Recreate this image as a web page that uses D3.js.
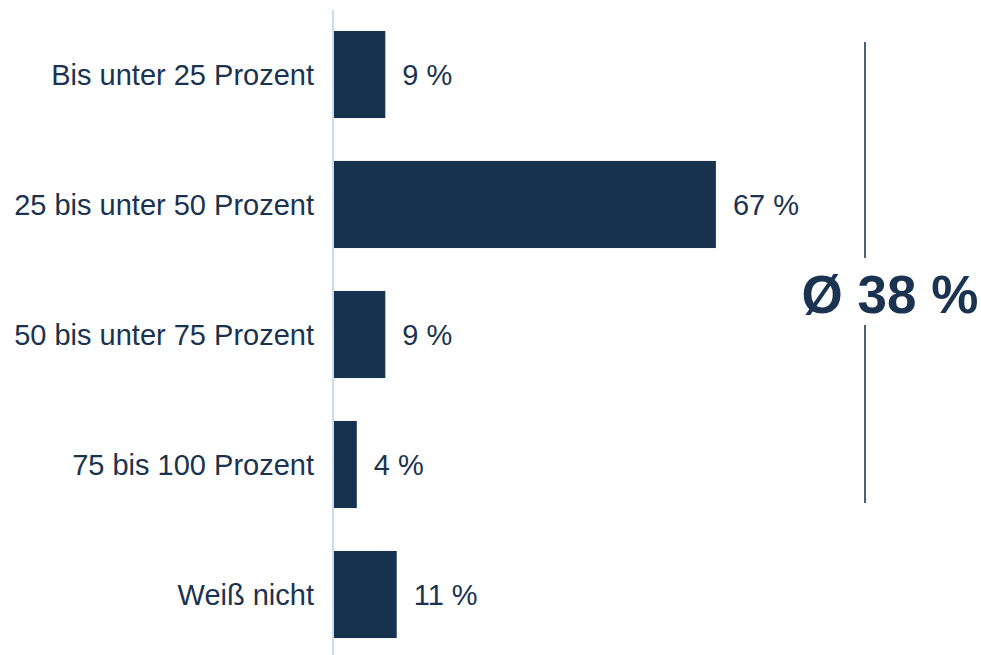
<!DOCTYPE html>
<html lang="de">
<head>
<meta charset="UTF-8">
<title></title>
<style>
    body { margin: 0; background: #fff; }
    text { font-family: "Liberation Sans", Arial, sans-serif; fill: #1a3350; }
</style>
</head>
<body>
<svg id="chart"></svg>
<script src="https://cdnjs.cloudflare.com/ajax/libs/d3/7.8.5/d3.min.js"></script>
<script>
var width = 981;
var height = 655;
var categories = ["Bis unter 25 Prozent", "25 bis unter 50 Prozent", "50 bis unter 75 Prozent", "75 bis 100 Prozent", "Weiß nicht"];
var values = [9, 67, 9, 4, 11];
var averageLabel = "Ø 38 %";

var svg = d3.select("#chart")
    .attr("width", width)
    .attr("height", height);

var y = d3.scaleBand()
    .domain(categories)
    .range([9.5, 659.5])
    .paddingInner(0.33)
    .paddingOuter(0.165);

var x = d3.scaleLinear()
    .domain([0, 100])
    .range([334, 904]);

// bars
svg.selectAll("rect.bar")
    .data(values)
    .enter()
    .append("rect")
    .attr("class", "bar")
    .attr("x", x(0))
    .attr("y", function(d, i) { return y(categories[i]); })
    .attr("width", function(d) { return x(d) - x(0); })
    .attr("height", y.bandwidth())
    .attr("fill", "#16324f");

// axis line
svg.append("line")
    .attr("x1", 333).attr("x2", 333)
    .attr("y1", 10).attr("y2", height)
    .attr("stroke", "#c8dbf1")
    .attr("stroke-width", 2);

// category labels
svg.selectAll("text.cat")
    .data(categories)
    .enter()
    .append("text")
    .attr("class", "cat")
    .attr("x", 314)
    .attr("y", function(d) { return y(d) + y.bandwidth() / 2; })
    .attr("dy", "0.35em")
    .attr("text-anchor", "end")
    .style("font-size", "29px")
    .text(function(d) { return d; });

// value labels
svg.selectAll("text.val")
    .data(values)
    .enter()
    .append("text")
    .attr("class", "val")
    .attr("x", function(d) { return x(d) + 17; })
    .attr("y", function(d, i) { return y(categories[i]) + y.bandwidth() / 2; })
    .attr("dy", "0.35em")
    .style("font-size", "29px")
    .text(function(d) { return d + " %"; });

// average bracket
var avgX = 865;
svg.append("line")
    .attr("x1", avgX).attr("x2", avgX)
    .attr("y1", 42).attr("y2", 258)
    .attr("stroke", "#4a5f7a").attr("stroke-width", 2);
svg.append("line")
    .attr("x1", avgX).attr("x2", avgX)
    .attr("y1", 325).attr("y2", 503)
    .attr("stroke", "#4a5f7a").attr("stroke-width", 2);

svg.append("text")
    .attr("x", 890)
    .attr("y", 294)
    .attr("dy", "0.35em")
    .attr("text-anchor", "middle")
    .style("font-size", "53px")
    .style("font-weight", "bold")
    .text(averageLabel);
</script>
</body>
</html>
